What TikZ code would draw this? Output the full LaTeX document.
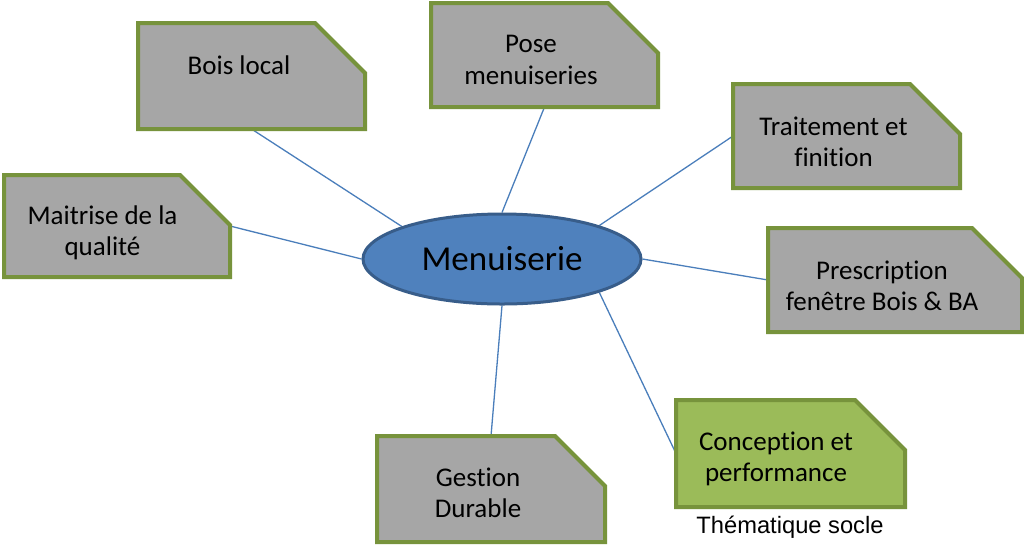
\documentclass[tikz,border=0pt]{standalone}
\usepackage{fontspec}
\setmainfont{Carlito}[Ligatures={NoCommon}]
\newfontfamily\arialfont{Liberation Sans}
\usetikzlibrary{shapes.geometric,backgrounds}
\definecolor{boxgray}{HTML}{A6A6A6}
\definecolor{boxborder}{HTML}{77933C}
\definecolor{boxgreen}{HTML}{9BBB59}
\definecolor{ellfill}{HTML}{4F81BD}
\definecolor{ellborder}{HTML}{385D8A}
\definecolor{linkcol}{HTML}{4A7EBB}
\tikzset{
  boxframe/.style={rectangle, inner sep=0pt, outer sep=0pt, draw=none},
  boxline/.style={draw=boxborder, line width=4pt, line join=miter},
  boxtext/.style={font=\fontsize{27}{31.5}\selectfont, align=center, inner sep=0pt, text=black},
  link/.style={draw=linkcol, line width=1.3pt},
  hub/.style={ellipse, fill=ellfill, draw=ellborder, line width=3pt, minimum width=278pt, minimum height=90pt, inner sep=0pt, font=\fontsize{35}{42}\selectfont},
  notetext/.style={font=\arialfont\fontsize{23.7}{28}\selectfont, inner sep=0pt}
}
% name, centre, width, height, fill, text position, text
\newcommand{\snipbox}[7]{%
  \node[boxframe, minimum width=#3pt, minimum height=#4pt] (#1) at (#2) {};
  \filldraw[boxline, fill=#5] (#1.north west) -- ([xshift=-50pt]#1.north east) -- ([yshift=-50pt]#1.north east) -- (#1.south east) -- (#1.south west) -- cycle;
  \node[boxtext] (#1-text) at (#6) {#7};
}
\begin{document}
\begin{tikzpicture}[x=1pt,y=-1pt]
\useasboundingbox (0,0) rectangle (1024,558);

\node[hub] (hub) at (502,259) {Menuiserie};

\snipbox{bois}{251.5,76}{227}{106}{boxgray}{239,65}{Bois local}
\snipbox{pose}{544.5,55}{227}{104}{boxgray}{531,60}{Pose\\menuiseries}
\snipbox{trait}{846.5,136}{227}{104}{boxgray}{833.5,142}{Traitement et\\finition}
\snipbox{maitr}{117,226}{226}{102}{boxgray}{102.5,233}{Maitrise de la\\qualité}
\snipbox{presc}{895,280}{254}{104}{boxgray}{882,286}{Prescription\\fenêtre Bois \& BA}
\snipbox{gest}{491,489}{228}{106}{boxgray}{478,493}{Gestion\\Durable}
\snipbox{conc}{790.5,453.5}{229}{107}{boxgreen}{776,459}{Conception et\\performance}

\node[notetext] (socle) at (790,527) {Thématique socle};

\begin{pgfonlayer}{background}
  \fill[white] (0,0) rectangle (1024,558);
  \draw[link] (bois.south) -- (hub.162);
  \draw[link] (pose.south) -- (hub.90);
  \draw[link] (trait.west) -- (hub.19);
  \draw[link] (maitr.east) -- (hub.180);
  \draw[link] (presc.west) -- (hub.0);
  \draw[link] (gest.north) -- (hub.270);
  \draw[link] (conc.west) -- (hub.341);
\end{pgfonlayer}
\end{tikzpicture}
\end{document}
